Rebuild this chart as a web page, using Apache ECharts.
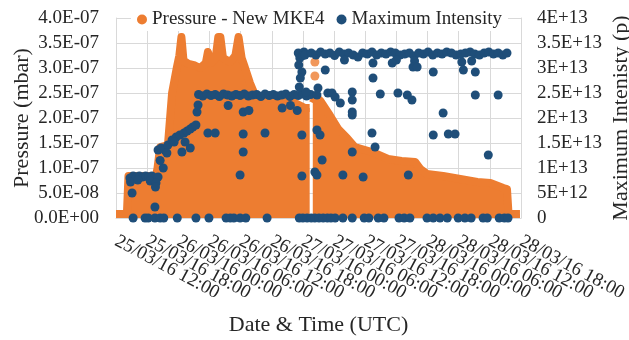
<!DOCTYPE html>
<html>
<head>
<meta charset="utf-8">
<script src="https://cdn.jsdelivr.net/npm/echarts@6/dist/echarts.min.js"></script>
<style>
  html, body { margin: 0; padding: 0; background: #fff; }
  #chart { width: 629px; height: 340px; }
</style>
</head>
<body>
<div id="chart"></div>
<script>
// x = hours since 25/03/16 12:00 (UTC)
const tickLabels = [
  '25/03/16 12:00', '25/03/16 18:00', '26/03/16 00:00', '26/03/16 06:00',
  '26/03/16 12:00', '26/03/16 18:00', '27/03/16 00:00', '27/03/16 06:00',
  '27/03/16 12:00', '27/03/16 18:00', '28/03/16 00:00', '28/03/16 06:00',
  '28/03/16 12:00', '28/03/16 18:00'
];

// upper envelope of the pressure points, in units of 1E-07 mbar (null = gap in data)
const pressureHours = [
  0, 2.1, 2.4, 7.7, 8.0, 8.5, 10.0, 10.8, 11.7, 12.2, 12.6, 13.0, 14.0, 15.2,
  16.2, 17.3, 17.7, 18.3, 19.2, 19.7, 20.1, 20.6, 22.0, 23.0, 23.6, 24.2,
  24.7, 25.8, 26.8, 28.7, 30.6, 32.6, 34.5, 36.4, 37.3, 37.5, 37.9, 38.5, 39.3, 41.2,
  42.8, 44.5, 46.0, 49.3, 52.4, 55.0, 57.6, 58.6, 59.9, 63.0, 66.3, 69.6, 72.1,
  74.6, 75.3, 75.6, 77.8
];
const pressureE7 = [
  0.08, 0.08, 0.84, 0.84, 1.0, 1.42, 1.46, 2.5, 3.0, 3.25, 3.62, 3.15, 3.08, 3.05,
  3.0, 3.1, 3.32, 3.1, 3.2, 3.62, 3.62, 3.2, 3.12, 3.25, 3.62, 3.2,
  3.05, 2.7, 2.45, 2.4, 2.38, 2.35, 2.3, 2.2, 2.2, null, 2.3, 2.42, 2.35, 2.05,
  1.78, 1.6, 1.42, 1.32, 1.18, 1.14, 1.12, 0.98, 0.88, 0.84, 0.78, 0.72, 0.7,
  0.6, 0.58, 0.08, 0.08
];
// stray pressure points above the envelope
const pressureStrayHours = [38.3, 38.3];
const pressureStrayE7 = [3.12, 2.84];

// maximum intensity points, in units of 1E+13 p
const intensityHours = [
  // zero row
  3.3, 5.6, 6.2, 7.5, 8.5, 9.2, 11.8, 15.4, 17.9, 21.2, 22.0, 22.7, 23.9, 25.0,
  29.1, 35.3, 36.0, 36.8, 37.6, 38.3, 39.1, 39.9, 40.7, 41.4, 42.2, 43.7, 45.5,
  47.8, 48.7, 50.5, 51.6, 54.5, 55.5, 56.6, 59.9, 61.1, 62.4, 63.8, 65.9, 67.2,
  68.4, 70.7, 71.5, 73.8, 74.8, 75.5,
  // first step
  2.7, 3.3, 3.9, 4.5, 5.1, 5.7, 6.3, 6.9, 7.5, 8.1, 2.8, 4.2, 6.6, 7.7, 3.1, 7.6, 7.5,
  // ramp
  8.1, 8.7, 9.4, 9.1, 8.5, 10.0, 10.8, 11.6, 12.3, 13.1, 13.7, 14.3, 14.8, 15.4,
  14.3, 13.3, 12.7, 15.6, 15.8, 11.2, 9.8,
  // 2.5E+13 plateau
  15.9, 16.7, 17.5, 18.3, 19.1, 19.9, 20.7, 21.5, 22.3, 23.1, 23.9, 24.7, 25.5,
  26.3, 27.1, 27.9, 28.7, 29.5, 30.3, 31.1, 31.9, 32.7, 33.5, 34.3, 35.1, 35.9,
  36.7, 37.5,
  17.7, 19.1, 21.6, 24.5, 24.5, 24.5, 23.9, 25.6, 28.7, 32.0, 33.6, 34.9, 35.8, 35.8,
  // jump
  35.1, 35.4, 35.2, 35.8, 35.5, 36.2, 36.0, 35.3, 36.6, 36.4,
  // 3.3E+13 plateau
  37.6, 38.5, 39.4, 40.3, 41.2, 42.1, 43.0, 43.9, 44.8, 45.7, 46.6, 47.5, 48.4,
  49.3, 50.2, 51.1, 52.0, 52.9, 53.8, 54.7, 55.6, 56.5, 57.4, 58.3, 59.2, 60.1,
  61.0, 61.9, 62.8, 63.7, 64.6, 65.5, 66.4, 67.3, 68.2, 69.1, 70.0, 70.9, 71.8,
  72.7, 73.6, 74.5, 75.3,
  57.5, 66.6, 68.5, 44.0, 54.0,
  38.9, 38.7, 40.3, 40.8, 41.6, 42.2, 43.2, 45.5, 45.5, 45.5, 45.5, 38.7, 39.3,
  39.7, 38.3, 38.7, 43.7, 47.6, 45.5, 49.5, 49.5, 50.9, 49.3, 49.9, 53.2, 54.3,
  56.1, 57.0, 56.3, 57.2, 58.0, 61.1, 63.0, 61.1, 64.0, 65.3, 66.9, 69.2, 69.2,
  73.6, 71.7
];
const intensityE13 = [
  // zero row
  0, 0, 0, 0, 0, 0, 0, 0, 0, 0, 0, 0, 0, 0,
  0, 0, 0, 0, 0, 0, 0, 0, 0, 0, 0, 0, 0,
  0, 0, 0, 0, 0, 0, 0, 0, 0, 0, 0, 0, 0,
  0, 0, 0, 0, 0, 0,
  // first step
  0.8, 0.84, 0.82, 0.84, 0.82, 0.84, 0.82, 0.84, 0.8, 0.82, 0.72, 0.76, 0.74, 0.7, 0.5, 0.62, 0.22,
  // ramp
  1.36, 1.4, 1.36, 1.0, 1.15, 1.46, 1.56, 1.62, 1.66, 1.7, 1.74, 1.78, 1.82, 1.86,
  1.4, 1.52, 1.32, 2.12, 2.26, 1.52, 1.3,
  // 2.5E+13 plateau
  2.47, 2.44, 2.48, 2.45, 2.47, 2.43, 2.48, 2.46, 2.44, 2.47, 2.45, 2.48, 2.44,
  2.46, 2.47, 2.43, 2.48, 2.45, 2.47, 2.44, 2.46, 2.48, 2.43, 2.47, 2.45, 2.48,
  2.44, 2.47,
  1.7, 1.7, 2.25, 2.12, 1.68, 1.32, 0.86, 2.15, 1.7, 2.2, 2.25, 2.15, 1.66, 0.84,
  // jump
  3.3, 3.2, 3.06, 2.92, 2.8, 3.32, 3.25, 2.62, 2.52, 3.26,
  // 3.3E+13 plateau
  3.3, 3.26, 3.32, 3.28, 3.3, 3.25, 3.32, 3.28, 3.3, 3.26, 3.22, 3.3, 3.28,
  3.32, 3.26, 3.3, 3.28, 3.32, 3.3, 3.26, 3.28, 3.3, 3.24, 3.3, 3.28, 3.32,
  3.26, 3.3, 3.28, 3.32, 3.3, 3.26, 3.28, 3.3, 3.32, 3.28, 3.26, 3.3, 3.32,
  3.28, 3.3, 3.26, 3.3,
  3.14, 3.12, 3.14, 3.16, 3.16,
  2.6, 2.46, 2.96, 2.5, 2.5, 2.42, 2.3, 2.52, 2.36, 2.12, 2.06, 1.76, 1.66,
  1.16, 0.92, 0.86, 0.86, 0.82, 1.32, 3.1, 2.8, 2.48, 1.7, 1.42, 3.1, 2.5,
  2.46, 2.36, 0.86, 3.02, 3.02, 2.92, 2.1, 1.66, 1.68, 1.68, 2.96, 2.92, 2.46,
  2.46, 1.26
];

const orange = '#ED7D31';
const blue = '#1F4E79';
const gridGray = '#D9D9D9';
const textColor = '#262626';
const font = 'Liberation Serif';

function pressureLabel(v) {
  const parts = v.toExponential(1).split('e');
  const exp = parseInt(parts[1], 10);
  return parts[0] + 'E' + (exp < 0 ? '-' : '+') + String(Math.abs(exp)).padStart(2, '0');
}
function intensityLabel(v) {
  if (v === 0) return '0';
  return v.toExponential().replace('e', 'E');
}

const pressureLine = pressureHours.map((h, i) =>
  [h, pressureE7[i] === null ? '-' : pressureE7[i] * 1e-7]);
const pressureStray = pressureStrayHours.map((h, i) => [h, pressureStrayE7[i] * 1e-7]);
const intensityPoints = intensityHours.map((h, i) => [h, intensityE13[i] * 1e13]);

const chart = echarts.init(document.getElementById('chart'));
chart.setOption({
  animation: false,
  textStyle: { fontFamily: font, color: textColor },
  grid: { left: 116, right: 108, top: 18, bottom: 122, outerBoundsMode: 'none' },
  legend: {
    left: 131,
    top: 8,
    padding: [2, 6],
    backgroundColor: '#fff',
    icon: 'circle',
    itemWidth: 10,
    itemHeight: 10,
    itemGap: 12,
    data: ['Pressure - New MKE4', 'Maximum Intensity'],
    textStyle: { fontFamily: font, fontSize: 19, color: textColor }
  },
  xAxis: [{
    // value axis that places the points
    type: 'value',
    min: 0,
    max: 78,
    interval: 6,
    name: 'Date & Time (UTC)',
    nameLocation: 'middle',
    nameGap: 96,
    nameMoveOverlap: false,
    nameTextStyle: { fontFamily: font, fontSize: 22, color: textColor },
    axisLine: { lineStyle: { color: gridGray } },
    axisTick: { show: false },
    splitLine: { lineStyle: { color: gridGray } },
    axisLabel: { show: false }
  }, {
    // same 6-hour ticks, only for the date labels (shows every one)
    type: 'category',
    position: 'bottom',
    data: tickLabels,
    boundaryGap: false,
    axisLine: { show: false },
    axisTick: { show: false },
    splitLine: { show: false },
    axisLabel: {
      interval: 0,
      rotate: -28,
      margin: 22,
      fontSize: 19,
      color: textColor,
      fontFamily: font
    }
  }],
  yAxis: [{
    type: 'value',
    min: 0,
    max: 4e-7,
    interval: 5e-8,
    name: 'Pressure (mbar)',
    nameLocation: 'middle',
    nameGap: 83,
    nameMoveOverlap: false,
    nameTextStyle: { fontFamily: font, fontSize: 22, color: textColor },
    axisLine: { show: true, lineStyle: { color: gridGray } },
    axisTick: { show: false },
    splitLine: { lineStyle: { color: gridGray } },
    axisLabel: { margin: 17, fontSize: 19, color: textColor, fontFamily: font, formatter: pressureLabel }
  }, {
    type: 'value',
    min: 0,
    max: 4e13,
    interval: 5e12,
    name: 'Maximum Intenisty (p)',
    nameLocation: 'middle',
    nameGap: 89,
    nameMoveOverlap: false,
    nameTextStyle: { fontFamily: font, fontSize: 22, color: textColor },
    axisLine: { show: true, lineStyle: { color: gridGray } },
    axisTick: { show: false },
    splitLine: { show: false },
    axisLabel: { margin: 16, fontSize: 19, color: textColor, fontFamily: font, formatter: intensityLabel }
  }],
  series: [{
    name: 'Pressure - New MKE4',
    type: 'line',
    xAxisIndex: 0,
    yAxisIndex: 0,
    data: pressureLine,
    symbol: 'none',
    connectNulls: false,
    color: orange,
    lineStyle: { color: orange, width: 8, join: 'round' },
    areaStyle: { color: orange, opacity: 1 },
    z: 2
  }, {
    name: 'Pressure - New MKE4',
    type: 'scatter',
    xAxisIndex: 0,
    yAxisIndex: 0,
    data: pressureStray,
    symbolSize: 9,
    itemStyle: { color: orange },
    z: 2
  }, {
    name: 'Maximum Intensity',
    type: 'scatter',
    xAxisIndex: 0,
    yAxisIndex: 1,
    data: intensityPoints,
    symbolSize: 9,
    itemStyle: { color: blue, opacity: 1 },
    z: 3
  }]
});
</script>
</body>
</html>
